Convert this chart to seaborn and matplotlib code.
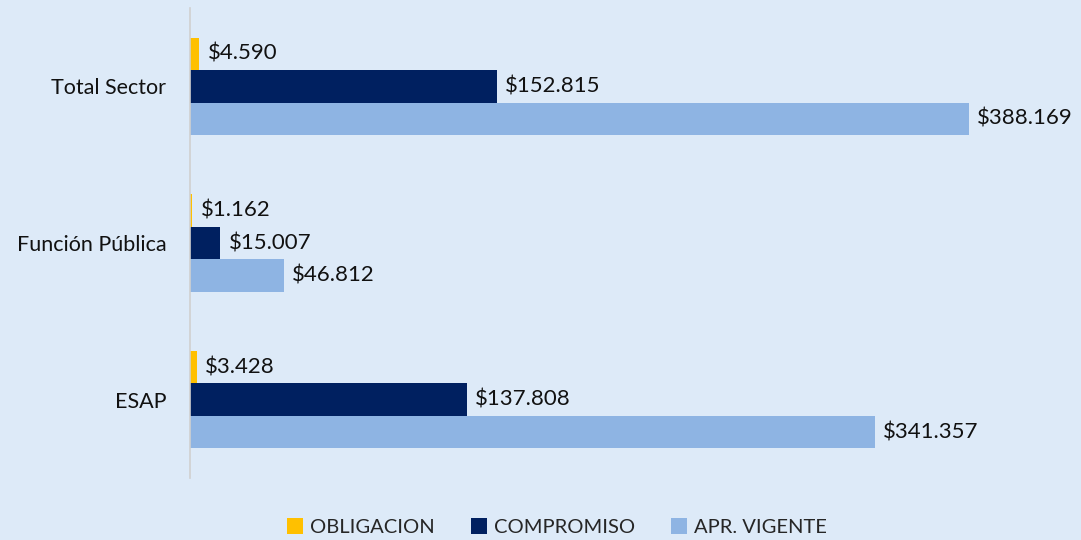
import matplotlib
matplotlib.use("Agg")
import matplotlib.pyplot as plt
import seaborn as sns
import pandas as pd

categories = ["Total Sector", "Función Pública", "ESAP"]
series = ["OBLIGACION", "COMPROMISO", "APR. VIGENTE"]
obligacion = [4590, 1162, 3428]
compromiso = [152815, 15007, 137808]
apr_vigente = [388169, 46812, 341357]
colors = ["#FFC000", "#002060", "#8EB4E3"]

rows = []
for s, vals in zip(series, [obligacion, compromiso, apr_vigente]):
    for c, v in zip(categories, vals):
        rows.append({"cat": c, "serie": s, "valor": v})
df = pd.DataFrame(rows)

sns.set_style("white")
plt.rcParams["font.family"] = ["Lato", "DejaVu Sans"]
bg = "#DDEAF8"

fig = plt.figure(figsize=(10.81, 5.40), dpi=100, facecolor=bg)
ax = fig.add_axes([190/1081, 62/540, 820/1081, 470/540])
ax.set_facecolor(bg)

sns.barplot(data=df, y="cat", x="valor", hue="serie", order=categories,
            hue_order=series, palette=colors, orient="h", width=0.62,
            saturation=1, linewidth=0, ax=ax, legend=True)

def fmt(v):
    return "$" + f"{v:,}".replace(",", ".")

for cont in ax.containers:
    vals = [b.get_width() for b in cont]
    ax.bar_label(cont, labels=[fmt(int(round(v))) for v in vals], padding=6,
                 fontsize=16, color="#111111")

ax.set_xlim(0, 820/0.002007)
ax.set_ylim(2.5, -0.5)
ax.set_xlabel("")
ax.set_ylabel("")
ax.set_xticks([])
ax.tick_params(axis="y", length=0, labelsize=15.5, pad=17, colors="#111111")
for s in ["top", "right", "bottom"]:
    ax.spines[s].set_visible(False)
ax.spines["left"].set_color("#D0D0D0")
ax.spines["left"].set_linewidth(1.2)

h, l = ax.get_legend_handles_labels()
ax.legend(h, l, loc="center", bbox_to_anchor=(557/1081, 1 - 527/540),
          bbox_transform=fig.transFigure, ncol=3, frameon=False, fontsize=14.5,
          handlelength=0.8, handleheight=0.8, handletextpad=0.35, columnspacing=1.8)

fig.savefig("out.png", dpi=100, facecolor=bg)
